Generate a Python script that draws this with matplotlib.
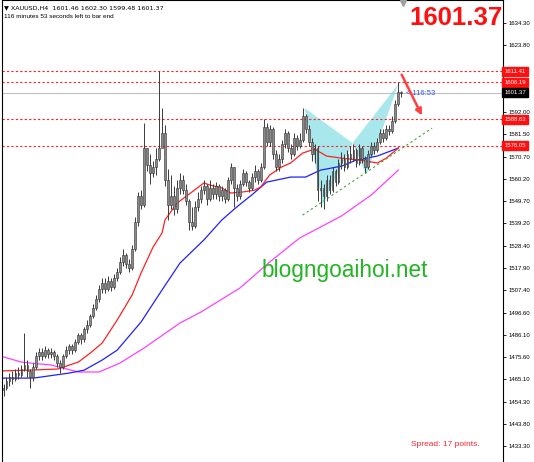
import matplotlib
matplotlib.use('Agg')
import matplotlib.pyplot as plt
from matplotlib.patches import Polygon
import matplotlib.transforms as mtransforms

plt.rcParams['font.family'] = ['Liberation Sans', 'DejaVu Sans']

# XAUUSD H4 bars (open of each bar = close of the previous one)
first_open = 1460
closes = [1461, 1464, 1466, 1465, 1468, 1467, 1470, 1472, 1469, 1466,
          1471, 1476, 1478, 1476, 1479, 1477, 1478, 1476, 1473, 1471,
          1476, 1479, 1481, 1479, 1483, 1486, 1484, 1489, 1491, 1495,
          1499, 1503, 1508, 1511, 1508, 1512, 1509, 1513, 1516, 1521,
          1524, 1520, 1518, 1527, 1540, 1552, 1548, 1575, 1567, 1563,
          1566, 1570, 1575, 1582, 1560, 1548, 1552, 1546, 1556, 1560,
          1555, 1550, 1540, 1538, 1547, 1551, 1555, 1557, 1551, 1556,
          1553, 1557, 1552, 1555, 1551, 1560, 1566, 1556, 1552, 1558,
          1563, 1559, 1556, 1561, 1564, 1560, 1566, 1585, 1578, 1584,
          1572, 1566, 1570, 1577, 1582, 1575, 1572, 1580, 1576, 1579,
          1590, 1584, 1578, 1572, 1575, 1555, 1556, 1552, 1560, 1555,
          1564, 1559, 1568, 1570, 1566, 1572, 1570, 1574, 1568, 1575,
          1570, 1566, 1572, 1576, 1574, 1578, 1582, 1580, 1584, 1583,
          1588, 1596, 1601.46, 1601.37]
highs = [1463, 1466, 1468, 1469, 1470, 1471, 1472, 1487, 1474, 1470,
         1473, 1478, 1480, 1480, 1481, 1480, 1480, 1479, 1477, 1474,
         1477, 1481, 1482, 1482, 1484, 1487, 1487, 1490, 1493, 1496,
         1501, 1505, 1510, 1513, 1513, 1514, 1513, 1515, 1518, 1523,
         1527, 1525, 1522, 1529, 1542, 1554, 1555, 1587, 1575, 1572,
         1569, 1575, 1611.5, 1594, 1586, 1565, 1562, 1557, 1560, 1563,
         1562, 1558, 1551, 1547, 1550, 1554, 1557, 1560, 1558, 1560,
         1558, 1559, 1558, 1557, 1556, 1561, 1568, 1566, 1558, 1560,
         1565, 1564, 1560, 1563, 1567, 1565, 1568, 1589, 1587, 1586,
         1585, 1574, 1572, 1579, 1584, 1583, 1577, 1582, 1581, 1582,
         1594, 1591, 1586, 1580, 1577, 1576, 1560, 1558, 1562, 1562,
         1566, 1565, 1570, 1573, 1572, 1574, 1576, 1577, 1575, 1577,
         1576, 1571, 1574, 1578, 1578, 1580, 1584, 1584, 1586, 1586,
         1590, 1598, 1606.2, 1602.30]
lows = [1457, 1460, 1462, 1463, 1464, 1465, 1466, 1469, 1466, 1461,
        1464, 1470, 1474, 1474, 1475, 1475, 1475, 1474, 1471, 1468,
        1470, 1475, 1477, 1477, 1478, 1482, 1482, 1483, 1487, 1490,
        1494, 1498, 1502, 1506, 1506, 1507, 1507, 1508, 1512, 1515,
        1519, 1518, 1516, 1517, 1526, 1538, 1546, 1547, 1564, 1558,
        1561, 1562, 1569, 1578, 1557, 1541, 1546, 1543, 1544, 1553,
        1553, 1548, 1536, 1536, 1537, 1545, 1549, 1553, 1548, 1550,
        1551, 1551, 1550, 1550, 1549, 1550, 1558, 1547, 1550, 1551,
        1557, 1557, 1554, 1555, 1559, 1558, 1559, 1565, 1576, 1576,
        1570, 1564, 1564, 1568, 1575, 1573, 1570, 1571, 1574, 1575,
        1578, 1582, 1576, 1569, 1568, 1550, 1547, 1546, 1550, 1553,
        1554, 1557, 1558, 1565, 1564, 1565, 1568, 1569, 1566, 1567,
        1568, 1563, 1565, 1571, 1572, 1573, 1577, 1578, 1579, 1581,
        1582, 1587, 1595, 1599.48]

# moving averages (bar index, price)
red_idx = [-1, 9, 18, 25, 29, 33, 38, 43, 46, 50, 53, 54, 58, 63, 67, 69,
           73, 76, 80, 84, 86, 89, 93, 96, 100, 104, 108, 113, 119, 125, 128, 132]
red_val = [1469.0, 1469.4, 1469.9, 1473.2, 1477.5, 1482.3, 1493.2, 1505.1,
           1515.6, 1527.9, 1534.6, 1540.8, 1548.8, 1554.1, 1558.4, 1557.4,
           1556.0, 1553.6, 1554.1, 1555.0, 1556.5, 1562.2, 1566.0, 1567.9,
           1572.6, 1574.5, 1571.2, 1570.2, 1569.3, 1567.9, 1570.2, 1575.0]
blue_idx = [-1, 10, 22, 27, 33, 38, 46, 53, 59, 67, 73, 78, 83, 88, 96, 101,
            106, 113, 118, 125, 132]
blue_val = [1465.6, 1465.6, 1468.0, 1469.4, 1474.2, 1478.9, 1492.3, 1507.5,
            1520.3, 1531.3, 1540.8, 1547.0, 1552.7, 1558.8, 1561.2, 1561.2,
            1564.5, 1566.4, 1569.3, 1571.2, 1575.0]
mag_idx = [-1, 6, 16, 25, 32, 39, 47, 59, 66, 79, 89, 99, 113, 123, 132]
mag_val = [1476.1, 1473.2, 1471.8, 1468.5, 1468.5, 1472.8, 1479.9, 1491.8,
           1497.0, 1508.4, 1520.8, 1532.2, 1542.7, 1552.7, 1564.5]

# butterfly pattern points X, A, B, C, D
pat_idx = [100.7, 106.7, 116.7, 121.3, 132]
pat_val = [1594.0, 1547.9, 1577.4, 1562.2, 1605.4]

levels = [1611.41, 1606.19, 1588.63, 1576.05]
last_price = 1601.37
yticks = [1433.30, 1443.80, 1454.30, 1465.10, 1475.60, 1486.10, 1496.60,
          1507.40, 1517.90, 1528.40, 1539.20, 1549.70, 1560.20, 1570.70,
          1581.50, 1592.00, 1602.80, 1613.30, 1623.80, 1634.30]
hidden_ticks = [1602.80, 1613.30]   # covered by the price boxes

fig = plt.figure(figsize=(5.34, 4.62), dpi=100)
ax = fig.add_axes([1.5 / 534, 0, 501.5 / 534, 1])
ax.set_xlim(-0.67, 167)
ax.set_ylim(1425.7, 1645.4)

# candles
opens = [first_open] + closes[:-1]
for i in range(len(closes)):
    o, c = opens[i], closes[i]
    ax.vlines(i, lows[i], highs[i], color='#3a3a3a', lw=0.7, zorder=3)
    lo, hi = min(o, c), max(o, c)
    ax.bar(i, max(hi - lo, 0.3), bottom=lo, width=0.62, color='#8a8a8a',
           edgecolor='#303030', linewidth=0.4, zorder=3)

ax.plot(mag_idx, mag_val, color='#ff40ff', lw=0.9, zorder=2)
ax.plot(blue_idx, blue_val, color='#2020ff', lw=0.9, zorder=2)
ax.plot(red_idx, red_val, color='#ff2020', lw=0.9, zorder=2)

# pattern triangles
tri1 = Polygon([(pat_idx[0], pat_val[0]), (pat_idx[1], pat_val[1]), (pat_idx[2], pat_val[2])],
               closed=True, facecolor='#a8e8ec', edgecolor='none', zorder=1)
tri2 = Polygon([(pat_idx[2], pat_val[2]), (pat_idx[3], pat_val[3]), (pat_idx[4], pat_val[4])],
               closed=True, facecolor='#a8e8ec', edgecolor='none', zorder=1)
ax.add_patch(tri1)
ax.add_patch(tri2)

# horizontal levels
for lv in levels:
    ax.axhline(lv, color='#ff2020', lw=0.8, ls=(0, (2, 2)), zorder=1)
ax.axhline(last_price, color='#c0c0c0', lw=0.8, zorder=1)

# trend line and arrow
ax.plot([100, 143.3], [1543.1, 1584.5], color='#40a040', lw=0.8, ls=(0, (2, 2.5)), zorder=4)
ax.annotate('', xy=(140.3, 1589.3), xytext=(132.7, 1611.1),
            arrowprops=dict(arrowstyle='-|>', color='#ff4040', lw=1.8,
                            mutation_scale=9), zorder=5)

# axis
ax.yaxis.tick_right()
ax.set_yticks(yticks)
ax.set_yticklabels(['' if t in hidden_ticks else '%.2f' % t for t in yticks], fontsize=4.3)
ax.tick_params(axis='y', length=2, width=0.6, pad=2, colors='black')
ax.set_xticks([])
for s in ['left', 'right', 'top']:
    ax.spines[s].set_color('black')
    ax.spines[s].set_linewidth(0.8)
ax.spines['bottom'].set_visible(False)

# price boxes
tr = mtransforms.blended_transform_factory(ax.transAxes, ax.transData)
for lv in levels:
    ax.text(1.003, lv, '%.2f' % lv, transform=tr, fontsize=4.3, color='white',
            ha='left', va='center', clip_on=False, zorder=10,
            bbox=dict(boxstyle='square,pad=0.35', fc='#ff1010', ec='#ff1010'))
ax.text(1.003, last_price, '%.2f' % last_price, transform=tr, fontsize=4.3, color='white',
        ha='left', va='center', clip_on=False, zorder=10,
        bbox=dict(boxstyle='square,pad=0.35', fc='black', ec='black'))

# shift marker at the top
ax.plot([133.5], [1644.0], marker='v', color='#a0a0a0', markersize=4, clip_on=False, zorder=6)

# texts
fig.text(4 / 534, 1 - 8 / 462, '\u25bc XAUUSD,H4  1601.46 1602.30 1599.48 1601.37',
         fontsize=4.6, va='center', ha='left', family=['DejaVu Sans'])
fig.text(4 / 534, 1 - 17 / 462, '116 minutes 53 seconds left to bar end',
         fontsize=4.6, va='center', ha='left')
fig.text(456 / 534, 1 - 18 / 462, '1601.37', fontsize=18.5, fontweight='bold',
         color='#ff1010', ha='center', va='center')
ax.text(134.5, 1601.0, '< 116:53', fontsize=5.5, color='#3050ff', ha='left', va='center')
fig.text(345 / 534, 1 - 270 / 462, 'blogngoaihoi.net', fontsize=16.3,
         color='#22b522', ha='center', va='center')
fig.text(445 / 534, 1 - 445 / 462, 'Spread: 17 points.', fontsize=6,
         color='#ff2030', ha='center', va='center')

fig.savefig('out.png', dpi=100)
plt.close()
